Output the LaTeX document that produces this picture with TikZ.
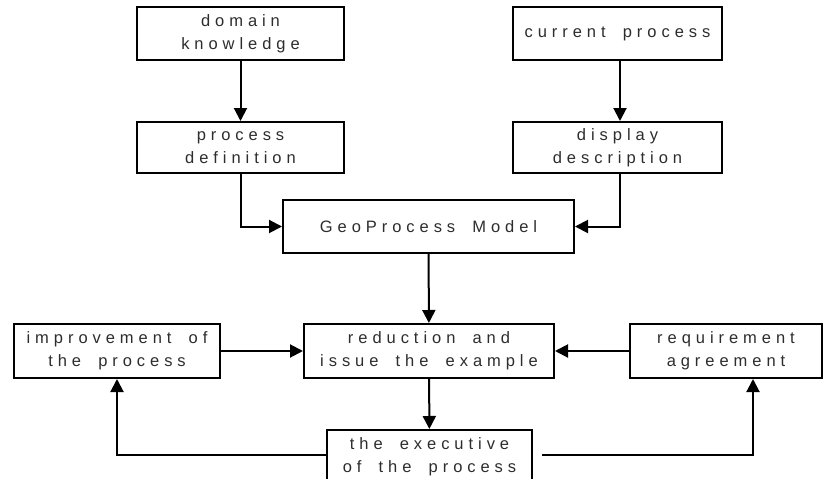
\documentclass[tikz,border=0pt]{standalone}
\usepackage{fontspec}
\setmainfont{Liberation Sans}[LetterSpace=30, WordSpace=1.8]
\usetikzlibrary{arrows.meta, positioning}
\definecolor{lineDark}{HTML}{000000}
\definecolor{textGrey}{HTML}{2D2D2D}

\begin{document}
\begin{tikzpicture}[x=1pt, y=-1pt,
    blk/.style={rectangle, draw=lineDark, line width=2pt, fill=white,
                minimum width=#1, minimum height=53pt, inner sep=0pt,
                font=\fontsize{16.5}{23}\selectfont\color{textGrey}, align=center},
    blk/.default=207pt,
    arr/.style={draw=lineDark, line width=2pt,
                -{Triangle[length=13pt, width=13pt]}},
  ]
    \useasboundingbox (0, 0) rectangle (823, 479);
    % top row
    \node[blk] (dk) at (240.5, 33.5) {domain\\knowledge};
    \node[blk=209pt] (cp) at (617.5, 33.5) {current process};
    \node[blk, minimum height=51pt] (pd) at (240.5, 147.5) {process\\definition};
    \node[blk=209pt, minimum height=51pt] (dd) at (617.5, 147.5) {display\\description};
    \node[blk=291pt] (gm) at (428.5, 226.5) {GeoProcess Model};
    % lower row
    \node[blk=250pt, minimum height=54pt] (red) at (429, 351)
      {reduction and\\issue the example};
    \node[blk=206pt, minimum height=54pt] (imp) at (117, 351)
      {improvement of\\the process};
    \node[blk=192pt, minimum height=54pt] (req) at (726, 351)
      {requirement\\agreement};
    \node[blk=205pt, minimum height=54pt] (exe) at (429.5, 457)
      {the executive\\of the process};

    \draw[arr] (dk) -- (pd);
    \draw[arr] ([xshift=2.5pt]cp.south) -- ([xshift=2.5pt]dd.north);
    \draw[arr] (pd.south) |- (gm.west);
    \draw[arr] ([xshift=2.5pt]dd.south) |- (gm.east);
    \draw[arr] (gm) -- (red);
    \draw[arr] (red) -- (exe);
    \draw[arr] (imp) -- (red);
    \draw[arr] (req) -- (red);
    \draw[arr] ([yshift=2pt]exe.west) -| (imp.south);
    \draw[arr, shorten <=9pt] ([yshift=2pt]exe.east) -| ([xshift=27pt]req.south);
\end{tikzpicture}
\end{document}
